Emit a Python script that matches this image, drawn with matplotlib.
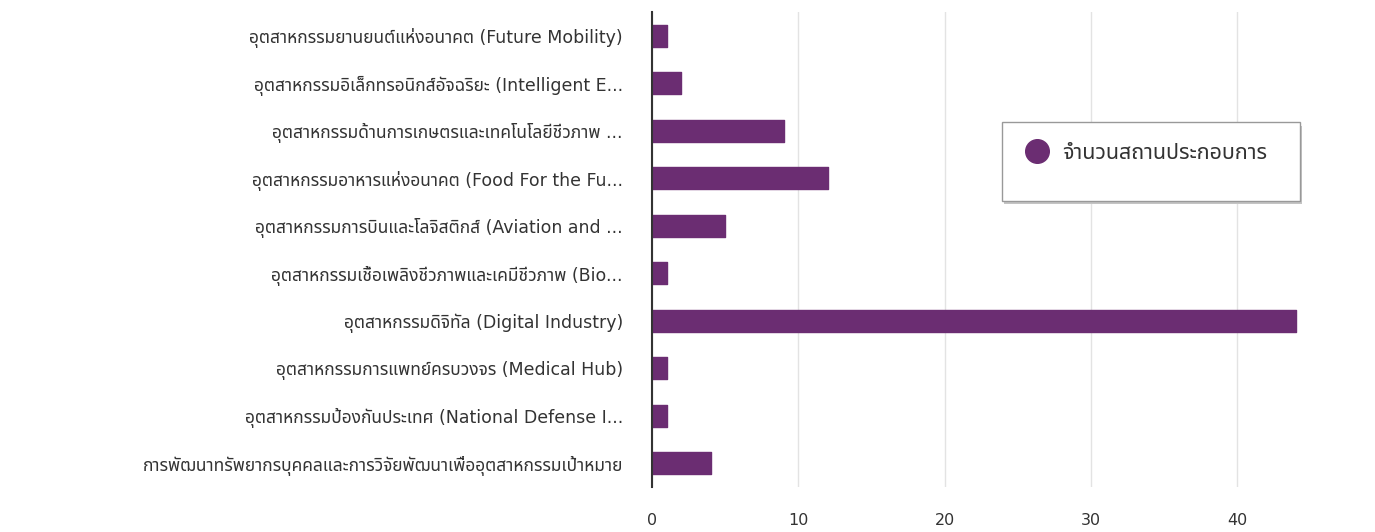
import matplotlib
matplotlib.use('Agg')
import matplotlib.pyplot as plt
from matplotlib.patches import Rectangle
from matplotlib.lines import Line2D

# Data
categories = [
    'อุตสาหกรรมยานยนต์แห่งอนาคต (Future Mobility)',
    'อุตสาหกรรมอิเล็กทรอนิกส์อัจฉริยะ (Intelligent E...',
    'อุตสาหกรรมด้านการเกษตรและเทคโนโลยีชีวภาพ ...',
    'อุตสาหกรรมอาหารแห่งอนาคต (Food For the Fu...',
    'อุตสาหกรรมการบินและโลจิสติกส์ (Aviation and ...',
    'อุตสาหกรรมเชื้อเพลิงชีวภาพและเคมีชีวภาพ (Bio...',
    'อุตสาหกรรมดิจิทัล (Digital Industry)',
    'อุตสาหกรรมการแพทย์ครบวงจร (Medical Hub)',
    'อุตสาหกรรมป้องกันประเทศ (National Defense I...',
    'การพัฒนาทรัพยากรบุคคลและการวิจัยพัฒนาเพื่ออุตสาหกรรมเป้าหมาย',
]
values = [1, 2, 9, 12, 5, 1, 44, 1, 1, 4]
series_name = 'จำนวนสถานประกอบการ'
xticks = [0, 10, 20, 30, 40, 50]

bar_color = '#6b2d72'
text_color = '#333333'

plt.rcParams['font.family'] = ['DejaVu Sans', 'Noto Sans Thai', 'Loma', 'Garuda',
                               'Tlwg Typo', 'Noto Sans']

fig = plt.figure(figsize=(13.75, 5.32), dpi=100)
ax = fig.add_axes([0.4742, 0.0846, 0.532, 0.8929])

y = list(range(len(categories)))
ax.barh(y, values, height=0.46, color=bar_color, edgecolor=bar_color,
        linewidth=1, joinstyle='round', zorder=3)

ax.set_ylim(len(categories) - 0.5, -0.5)
ax.set_xlim(0, 50)
ax.set_yticks(y)
ax.set_yticklabels(categories, fontsize=12.5, color=text_color)
ax.set_xticks(xticks)
ax.set_xticklabels([str(t) for t in xticks], fontsize=11.5, color=text_color)

ax.tick_params(axis='y', length=0, pad=21)
ax.tick_params(axis='x', length=0, pad=19)

ax.grid(axis='x', color='#e3e3e3', linewidth=1, zorder=0)
for s in ['top', 'right', 'bottom']:
    ax.spines[s].set_visible(False)
ax.spines['left'].set_color('#333333')
ax.spines['left'].set_linewidth(1.5)
ax.spines['left'].set_zorder(4)

# Legend box with shadow
bx0, by0, bw, bh = 0.478, 0.603, 0.408, 0.165
shadow = Rectangle((bx0 + 0.003, by0 - 0.008), bw, bh, transform=ax.transAxes,
                   facecolor='#c4c4c4', edgecolor='none', zorder=5, clip_on=False)
box = Rectangle((bx0, by0), bw, bh, transform=ax.transAxes,
                facecolor='white', edgecolor='#999999', linewidth=1, zorder=6,
                clip_on=False)
ax.add_patch(shadow)
ax.add_patch(box)
handle = Line2D([], [], marker='o', linestyle='none', markersize=17,
                markerfacecolor=bar_color, markeredgecolor=bar_color)
leg = ax.legend([handle], [series_name], loc='upper left',
                bbox_to_anchor=(bx0 - 0.008, by0 + bh - 0.002), frameon=False,
                fontsize=15.5, handletextpad=0.2, labelcolor=text_color)
leg.set_zorder(7)

fig.savefig('out.png', dpi=100)
